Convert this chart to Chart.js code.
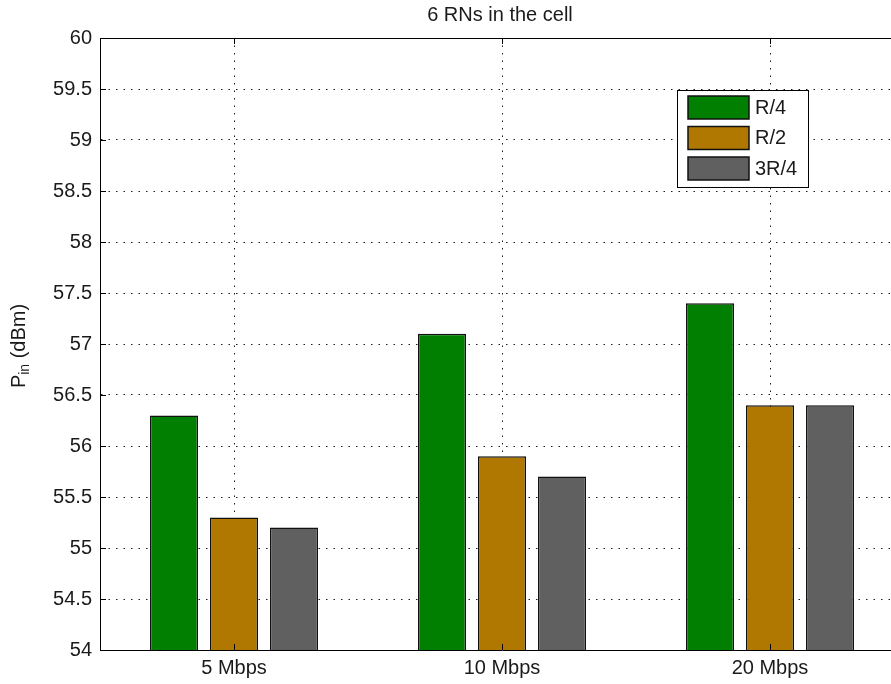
<!DOCTYPE html>
<html>
<head>
<meta charset="utf-8">
<script src="https://cdn.jsdelivr.net/npm/chart.js@4/dist/chart.umd.min.js"></script>
<style>
  html, body { margin: 0; padding: 0; background: #fff; overflow: hidden; }
  #wrap { width: 1140px; height: 684px; }
</style>
</head>
<body>
<div id="wrap"><canvas id="c" width="1140" height="684"></canvas></div>
<script>
// Data rates on the x axis
const categories = ['5 Mbps', '10 Mbps', '20 Mbps'];
// Relay rate settings
const seriesNames = ['R/4', 'R/2', '3R/4'];
// Input power per relay setting (dBm)
const powerR4 = [56.3, 57.1, 57.4];
const powerR2 = [55.3, 55.9, 56.4];
const power3R4 = [55.2, 55.7, 56.4];
// Y axis range and step
const yMin = 54;
const yMax = 60;
const yStep = 0.5;
const titleText = '6 RNs in the cell';

const seriesColors = ['#007f00', '#b07800', '#606060'];
const FONT = '"Liberation Sans", Arial, Helvetica, sans-serif';
const FS = 20;

Chart.defaults.font.family = FONT;
Chart.defaults.font.size = FS;
Chart.defaults.color = '#1a1a1a';

// Frame, inward tick marks, title, y label and legend box
const decorations = {
  id: 'decorations',
  afterDatasetsDraw(chart) {
    const { ctx, chartArea: a, scales } = chart;
    ctx.save();
    ctx.strokeStyle = '#000';
    ctx.lineWidth = 1;
    // top border of the axes box
    ctx.beginPath();
    ctx.moveTo(a.left, a.top + 0.5);
    ctx.lineTo(a.right, a.top + 0.5);
    ctx.stroke();
    // inward ticks on y axis
    const ys = scales.y;
    ys.ticks.forEach(t => {
      const y = Math.round(ys.getPixelForValue(t.value)) + 0.5;
      ctx.beginPath();
      ctx.moveTo(a.left, y);
      ctx.lineTo(a.left + 6, y);
      ctx.stroke();
    });
    // inward ticks on x axis (bottom and top)
    const xs = scales.x;
    categories.forEach((c, i) => {
      const x = Math.round(xs.getPixelForValue(i)) + 0.5;
      ctx.beginPath();
      ctx.moveTo(x, a.bottom);
      ctx.lineTo(x, a.bottom - 6);
      ctx.moveTo(x, a.top);
      ctx.lineTo(x, a.top + 6);
      ctx.stroke();
    });
    ctx.restore();
  },
  afterDraw(chart) {
    const { ctx } = chart;
    ctx.save();
    // title
    ctx.fillStyle = '#1a1a1a';
    ctx.font = FS + 'px ' + FONT;
    ctx.textAlign = 'center';
    ctx.textBaseline = 'middle';
    ctx.fillText(titleText, 500, 15);

    // y axis label: P with subscript "in"
    ctx.save();
    ctx.translate(19, 346);
    ctx.rotate(-Math.PI / 2);
    ctx.textAlign = 'left';
    ctx.textBaseline = 'middle';
    const mainFont = FS + 'px ' + FONT;
    const subFont = (FS - 6) + 'px ' + FONT;
    ctx.font = mainFont;
    const wP = ctx.measureText('P').width;
    const wRest = ctx.measureText(' (dBm)').width;
    ctx.font = subFont;
    const wIn = ctx.measureText('in').width;
    let x = -(wP + wIn + wRest) / 2;
    ctx.font = mainFont;
    ctx.fillText('P', x, 0);
    x += wP;
    ctx.font = subFont;
    ctx.fillText('in', x, 6);
    x += wIn;
    ctx.font = mainFont;
    ctx.fillText(' (dBm)', x, 0);
    ctx.restore();

    // legend box
    const bx = 677, by = 90, bw = 131, bh = 97;
    ctx.fillStyle = '#fff';
    ctx.fillRect(bx, by, bw, bh);
    ctx.strokeStyle = '#000';
    ctx.lineWidth = 1;
    ctx.strokeRect(bx + 0.5, by + 0.5, bw, bh);
    chart.data.datasets.forEach((ds, i) => {
      const ry = 96 + i * 30.5;
      ctx.fillStyle = ds.backgroundColor;
      ctx.fillRect(688, ry, 61, 23);
      ctx.strokeStyle = '#111';
      ctx.lineWidth = 1.5;
      ctx.strokeRect(688, ry, 61, 23);
      ctx.fillStyle = '#1a1a1a';
      ctx.font = mainFont;
      ctx.textAlign = 'left';
      ctx.textBaseline = 'middle';
      ctx.fillText(ds.label, 755, ry + 12);
    });
    ctx.restore();
  }
};

const seriesValues = [powerR4, powerR2, power3R4];

new Chart(document.getElementById('c'), {
  type: 'bar',
  data: {
    labels: categories,
    datasets: seriesNames.map((name, i) => ({
      label: name,
      data: seriesValues[i],
      backgroundColor: seriesColors[i],
      borderColor: '#111',
      borderWidth: 1.5,
      barPercentage: 0.8,
      categoryPercentage: 0.6716
    }))
  },
  options: {
    responsive: false,
    animation: false,
    devicePixelRatio: 1,
    layout: { padding: { left: 0, top: 38, right: 236, bottom: 0 } },
    plugins: {
      legend: { display: false },
      title: { display: false },
      tooltip: { enabled: false }
    },
    scales: {
      x: {
        offset: true,
        afterFit(s) { s.height = 34; },
        grid: {
          offset: false,
          drawTicks: false,
          color: '#1a1a1a',
          lineWidth: 1
        },
        border: { display: true, color: '#000', width: 1, dash: [1.5, 6] },
        ticks: { padding: 6, color: '#1a1a1a', font: { size: FS } }
      },
      y: {
        min: yMin,
        max: yMax,
        afterFit(s) { s.width = 100; },
        grid: {
          drawTicks: false,
          color: '#1a1a1a',
          lineWidth: 1
        },
        border: { display: true, color: '#000', width: 1, dash: [1.5, 6] },
        ticks: {
          stepSize: yStep,
          padding: 8,
          color: '#1a1a1a',
          font: { size: FS },
          callback: v => String(v)
        }
      }
    }
  },
  plugins: [decorations]
});
</script>
</body>
</html>
